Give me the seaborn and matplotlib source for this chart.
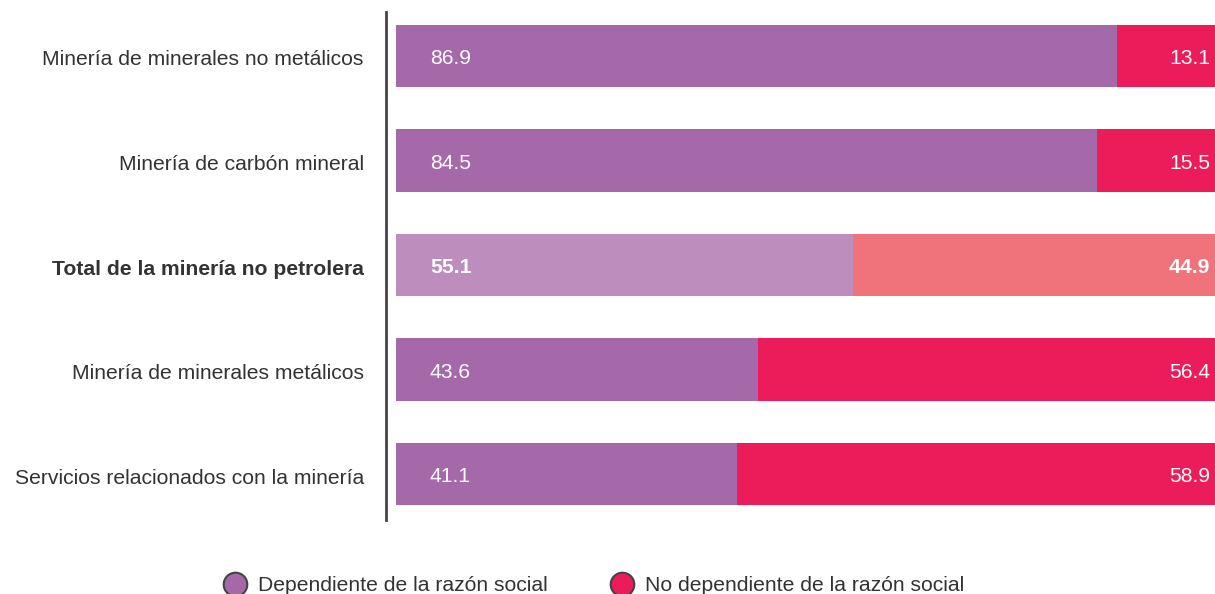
import matplotlib as mpl
mpl.use('Agg')
import numpy as np
import pandas as pd
import seaborn as sns
import matplotlib.pyplot as plt
from matplotlib.lines import Line2D

sns.set_style("white")
plt.rcParams['font.family'] = ['Liberation Sans', 'DejaVu Sans']

categorias = ["Minería de minerales no metálicos",
              "Minería de carbón mineral",
              "Total de la minería no petrolera",
              "Minería de minerales metálicos",
              "Servicios relacionados con la minería"]
dependiente = [86.9, 84.5, 55.1, 43.6, 41.1]
no_dependiente = [13.1, 15.5, 44.9, 56.4, 58.9]
series = ["Dependiente de la razón social", "No dependiente de la razón social"]

morado = "#A569A9"
rojo = "#EC1C5A"
morado_claro = "#BD8DBE"
rojo_claro = "#F0737C"
total_idx = 2
fs = 15.2

df = pd.DataFrame({"cat": categorias, "dep": dependiente, "nodep": no_dependiente})
df["total"] = df["dep"] + df["nodep"]

fig = plt.figure(figsize=(12.15, 5.94), dpi=100)
ax = fig.add_axes([386 / 1215, 1 - 520 / 594, 1 - 386 / 1215, 508 / 594])

pal_rojo = [rojo_claro if i == total_idx else rojo for i in range(len(categorias))]
pal_morado = [morado_claro if i == total_idx else morado for i in range(len(categorias))]

sns.barplot(data=df, x="total", y="cat", hue="cat", palette=pal_rojo,
            width=0.595, legend=False, ax=ax, saturation=1, linewidth=0)
sns.barplot(data=df, x="dep", y="cat", hue="cat", palette=pal_morado,
            width=0.595, legend=False, ax=ax, saturation=1, linewidth=0)

for i, (d, n) in enumerate(zip(dependiente, no_dependiente)):
    w = "bold" if i == total_idx else "normal"
    ax.text(4.1, i + 0.025, f"{d:.1f}", color="white", fontsize=fs, va="center", ha="left", fontweight=w)
    ax.text(98.1, i + 0.025, f"{n:.1f}", color="white", fontsize=fs, va="center", ha="right", fontweight=w)

ax.set_xlim(-1.2, 98.7)
ax.set_ylim(4.44, -0.42)
ax.set_yticks([i + 0.02 for i in range(len(categorias))], categorias)
ax.set_xlabel("")
ax.set_ylabel("")
ax.set_xticks([])
for s in ["top", "right", "bottom"]:
    ax.spines[s].set_visible(False)
ax.spines["left"].set_color("#444444")
ax.spines["left"].set_linewidth(2)
ax.tick_params(axis="y", length=0, pad=16, labelsize=fs, labelcolor="#333333")
for i, lbl in enumerate(ax.get_yticklabels()):
    if i == total_idx:
        lbl.set_fontweight("bold")

handles = [Line2D([], [], marker="o", linestyle="none", markersize=17,
                  markerfacecolor=c, markeredgecolor="#444444", markeredgewidth=1.5)
           for c in [morado, rojo]]
fig.legend(handles, series, loc="center", bbox_to_anchor=(0.485, 0.014), ncol=2,
           frameon=False, fontsize=fs, handletextpad=0.1, columnspacing=2.5,
           labelcolor="#333333")

fig.savefig("out.png", dpi=100)
